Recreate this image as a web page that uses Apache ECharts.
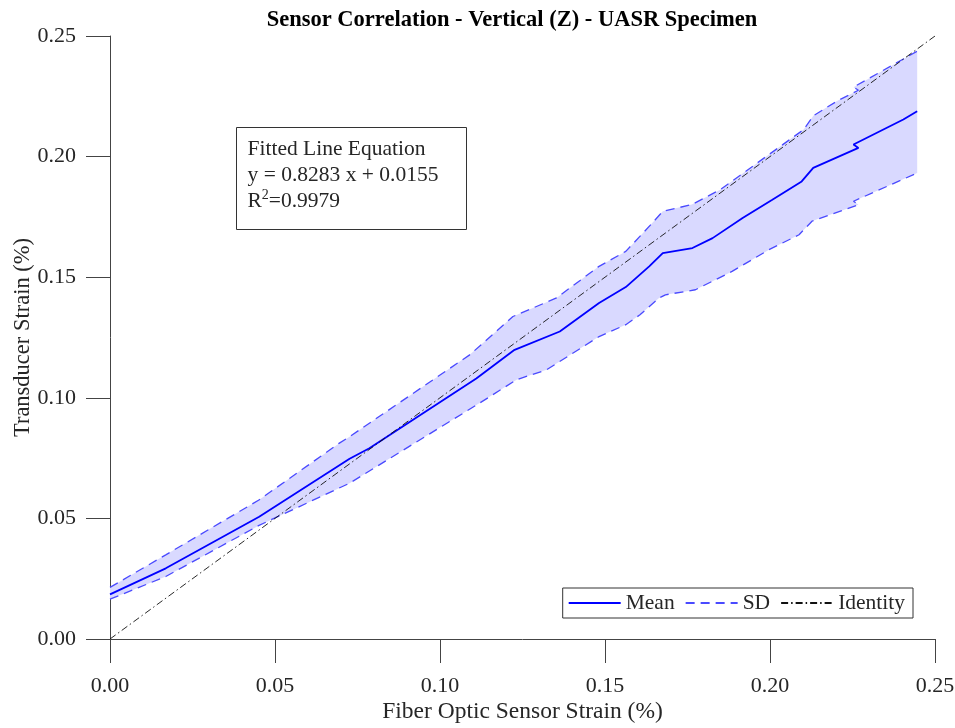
<!DOCTYPE html>
<html>
<head>
<meta charset="utf-8">
<script src="https://cdn.jsdelivr.net/npm/echarts@6/dist/echarts.min.js"></script>
<style>html,body{margin:0;padding:0;background:#fff;}#c{width:955px;height:728px;}</style>
</head>
<body>
<div id="c"></div>
<script>
// Mean curve (x = fiber optic strain %, y = transducer strain %)
const meanX = [0, 0.0169, 0.0452, 0.0726, 0.0786, 0.111, 0.1226, 0.1363, 0.1482, 0.1563, 0.1634, 0.1675, 0.1765, 0.1826, 0.1917, 0.2007, 0.2096, 0.2131, 0.2268, 0.2253, 0.2404, 0.2446];
const meanY = [0.0185, 0.0293, 0.0507, 0.0747, 0.0791, 0.108, 0.1199, 0.1275, 0.1393, 0.1459, 0.1545, 0.1600, 0.1621, 0.1662, 0.1745, 0.1821, 0.1897, 0.1953, 0.2036, 0.2050, 0.2154, 0.2188];
// Upper SD bound
const upperX = [0, 0.0169, 0.045, 0.0695, 0.0726, 0.109, 0.1221, 0.1353, 0.1482, 0.1563, 0.1639, 0.1675, 0.1763, 0.1849, 0.2102, 0.2132, 0.2203, 0.2268, 0.2253, 0.2446];
const upperY = [0.0214, 0.0349, 0.0575, 0.0812, 0.0839, 0.1178, 0.1337, 0.1414, 0.1545, 0.1607, 0.1718, 0.1773, 0.1801, 0.1863, 0.2112, 0.2170, 0.2230, 0.2275, 0.2288, 0.2437];
// Lower SD bound
const lowerX = [0, 0.0169, 0.045, 0.0726, 0.0879, 0.112, 0.1232, 0.1323, 0.1482, 0.1563, 0.1606, 0.1663, 0.1683, 0.1774, 0.1885, 0.1997, 0.2088, 0.2128, 0.2268, 0.2253, 0.2446];
const lowerY = [0.0165, 0.0259, 0.047, 0.0646, 0.0775, 0.0978, 0.1075, 0.1116, 0.1254, 0.1303, 0.1344, 0.1413, 0.1427, 0.1448, 0.1524, 0.1614, 0.1676, 0.1733, 0.1800, 0.1815, 0.1932];
// Identity line
const identityX = [0, 0.25];
const identityY = [0, 0.25];
// Axis ticks
const xTicks = [0, 0.05, 0.10, 0.15, 0.20, 0.25];
const yTicks = [0, 0.05, 0.10, 0.15, 0.20, 0.25];

const zip = (a, b) => a.map((v, i) => [v, b[i]]);
const meanData = zip(meanX, meanY);
const upperData = zip(upperX, upperY);
const lowerData = zip(lowerX, lowerY);
const bandData = upperData.concat(lowerData.slice().reverse());

const FONT = '"Liberation Serif", "Times New Roman", serif';
const TXT = '#262626';

const chart = echarts.init(document.getElementById('c'));
chart.setOption({
  animation: false,
  backgroundColor: '#fff',
  title: {
    text: 'Sensor Correlation - Vertical (Z) - UASR Specimen',
    left: 507, top: 4, textAlign: 'center',
    textStyle: { fontFamily: FONT, fontSize: 22.5, fontWeight: 'bold', color: '#000' }
  },
  grid: { left: 110, right: 20, top: 36, bottom: 89, containLabel: false, outerBoundsMode: 'none' },
  xAxis: {
    type: 'value', min: 0, max: 0.25, interval: 0.05,
    name: 'Fiber Optic Sensor Strain (%)', nameLocation: 'middle', nameGap: 61,
    nameMoveOverlap: false,
    nameTextStyle: { fontFamily: FONT, fontSize: 23.5, color: TXT },
    axisLine: { show: true, lineStyle: { color: '#444', width: 1 } },
    axisTick: { show: true, inside: false, length: 24, lineStyle: { color: '#444' } },
    axisLabel: { fontFamily: FONT, fontSize: 22, color: TXT, margin: 36,
      formatter: v => v.toFixed(2) },
    splitLine: { show: false }
  },
  yAxis: {
    type: 'value', min: 0, max: 0.25, interval: 0.05,
    name: 'Transducer Strain (%)', nameLocation: 'middle', nameGap: 75,
    nameMoveOverlap: false,
    nameTextStyle: { fontFamily: FONT, fontSize: 22.5, color: TXT },
    axisLine: { show: true, lineStyle: { color: '#444', width: 1 } },
    axisTick: { show: true, inside: false, length: 24, lineStyle: { color: '#444' } },
    axisLabel: { fontFamily: FONT, fontSize: 22, color: TXT, margin: 34,
      formatter: v => v.toFixed(2) },
    splitLine: { show: false }
  },
  legend: {
    data: ['Mean', 'SD', 'Identity'],
    right: 42, bottom: 110,
    orient: 'horizontal',
    itemWidth: 52, itemHeight: 14, itemGap: 10,
    padding: [4, 8, 4, 5],
    borderColor: '#333', borderWidth: 1, borderRadius: 0,
    backgroundColor: '#fff',
    itemStyle: { opacity: 0 },
    textStyle: { fontFamily: FONT, fontSize: 21.5, color: TXT }
  },
  graphic: [{
    type: 'group', left: 236, top: 127,
    children: [
      { type: 'rect', shape: { x: 0, y: 0, width: 230, height: 102 },
        style: { fill: '#fff', stroke: '#333', lineWidth: 1 } },
      { type: 'text', x: 11, y: 9,
        style: { text: 'Fitted Line Equation\ny = 0.8283 x + 0.0155\nR{s|2}=0.9979',
          fontFamily: FONT, fontSize: 21.5, lineHeight: 26, fill: TXT,
          rich: { s: { fontFamily: FONT, fontSize: 14, verticalAlign: 'top', lineHeight: 26, padding: [0,0,9,0] } } } }
    ]
  }],
  series: [
    {
      type: 'custom', name: 'band', silent: true, z: 1,
      data: bandData,
      clip: true,
      renderItem: function (params, api) {
        if (params.dataIndex !== 0) return null;
        const pts = bandData.map(p => api.coord(p));
        return { type: 'polygon', shape: { points: pts },
          style: { fill: '#d9d9ff', stroke: 'none' } };
      }
    },
    {
      type: 'line', name: 'Mean', data: meanData, z: 4,
      symbol: 'none', smooth: false,
      lineStyle: { color: '#0000ff', width: 1.8 }, itemStyle: { color: '#0000ff' }
    },
    {
      type: 'line', name: 'SD', data: upperData, z: 3,
      symbol: 'none',
      lineStyle: { color: '#4a4aff', width: 1.3, type: [9, 6] }, itemStyle: { color: '#4a4aff' }
    },
    {
      type: 'line', name: 'SD', data: lowerData, z: 3,
      symbol: 'none',
      lineStyle: { color: '#4a4aff', width: 1.3, type: [9, 6] }, itemStyle: { color: '#4a4aff' }
    },
    {
      type: 'line', name: 'Identity', data: zip(identityX, identityY), z: 5,
      symbol: 'none',
      lineStyle: { color: '#111', width: 0.9, type: [7, 3, 1.5, 3] }, itemStyle: { color: '#111' }
    }
  ]
});
</script>
</body>
</html>
